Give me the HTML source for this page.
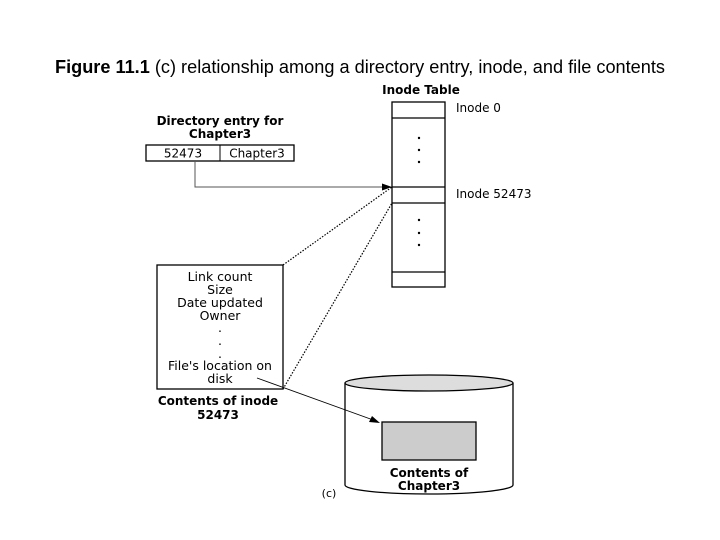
<!DOCTYPE html>
<html><head><style>
body{margin:0;background:#fff;width:720px;height:540px;overflow:hidden}
svg{display:block}
text{font-family:"DejaVu Sans","Liberation Sans",sans-serif}
</style></head><body>
<svg width="720" height="540" viewBox="0 0 720 540">
<text x="360" y="73" text-anchor="middle" font-size="18" style="font-family:'Liberation Sans',sans-serif" textLength="610" lengthAdjust="spacingAndGlyphs"><tspan font-weight="bold">Figure 11.1</tspan>  (c) relationship among a directory entry, inode, and file contents</text>
<text x="421" y="94" text-anchor="middle" font-size="12" font-weight="bold">Inode Table</text>
<rect x="392" y="102" width="53" height="185" fill="#fff" stroke="#000" stroke-width="1.3"/>
<g stroke="#000" stroke-width="1.2"><line x1="392" y1="118" x2="445" y2="118"/><line x1="392" y1="187" x2="445" y2="187"/><line x1="392" y1="203" x2="445" y2="203"/><line x1="392" y1="272" x2="445" y2="272"/></g>
<g fill="#000"><circle cx="419" cy="138" r="1.2"/><circle cx="419" cy="150" r="1.2"/><circle cx="419" cy="162" r="1.2"/><circle cx="419" cy="220" r="1.2"/><circle cx="419" cy="233" r="1.2"/><circle cx="419" cy="245" r="1.2"/></g>
<text x="456" y="112" font-size="12">Inode 0</text>
<text x="456" y="198" font-size="12">Inode 52473</text>
<text x="220" y="125" text-anchor="middle" font-size="12" font-weight="bold">Directory entry for</text>
<text x="220" y="138" text-anchor="middle" font-size="12" font-weight="bold">Chapter3</text>
<rect x="146" y="145" width="148" height="16" fill="#fff" stroke="#000" stroke-width="1.3"/>
<line x1="220" y1="145" x2="220" y2="161" stroke="#000"/>
<text x="183" y="157.5" text-anchor="middle" font-size="12">52473</text>
<text x="257" y="157.5" text-anchor="middle" font-size="12">Chapter3</text>
<polyline points="195,161 195,187 388,187" fill="none" stroke="#555" stroke-width="1"/>
<polygon points="392,187 382,183.5 382,190.5" fill="#000"/>
<g stroke="#000" stroke-width="1.2" stroke-dasharray="1.5,1.5" fill="none"><line x1="283" y1="265" x2="392" y2="187"/><line x1="283" y1="389" x2="392" y2="203"/></g>
<rect x="157" y="265" width="126" height="124" fill="#fff" stroke="#000" stroke-width="1.3"/>
<g font-size="12.5" text-anchor="middle"><text x="220" y="281">Link count</text><text x="220" y="294">Size</text><text x="220" y="307">Date updated</text><text x="220" y="320">Owner</text><text x="220" y="332">.</text><text x="220" y="345">.</text><text x="220" y="358">.</text><text x="220" y="370">File's location on</text><text x="220" y="383">disk</text></g>
<text x="218" y="405" text-anchor="middle" font-size="12" font-weight="bold">Contents of inode</text>
<text x="218" y="419" text-anchor="middle" font-size="12" font-weight="bold">52473</text>
<path d="M345,383 L345,485 A84,9 0 0 0 513,485 L513,383" fill="#fff" stroke="#000" stroke-width="1.3"/>
<ellipse cx="429" cy="383" rx="84" ry="8" fill="#ddd" stroke="#000" stroke-width="1.3"/>
<rect x="382" y="422" width="94" height="38" fill="#ccc" stroke="#000" stroke-width="1.3"/>
<text x="429" y="477" text-anchor="middle" font-size="12" font-weight="bold">Contents of</text>
<text x="429" y="490" text-anchor="middle" font-size="12" font-weight="bold">Chapter3</text>
<text x="329" y="497" text-anchor="middle" font-size="11">(c)</text>
<line x1="257" y1="378" x2="376" y2="421" stroke="#000" stroke-width="0.9"/>
<polygon points="380,423 369,422 372,416" fill="#000"/>
</svg>
</body></html>
